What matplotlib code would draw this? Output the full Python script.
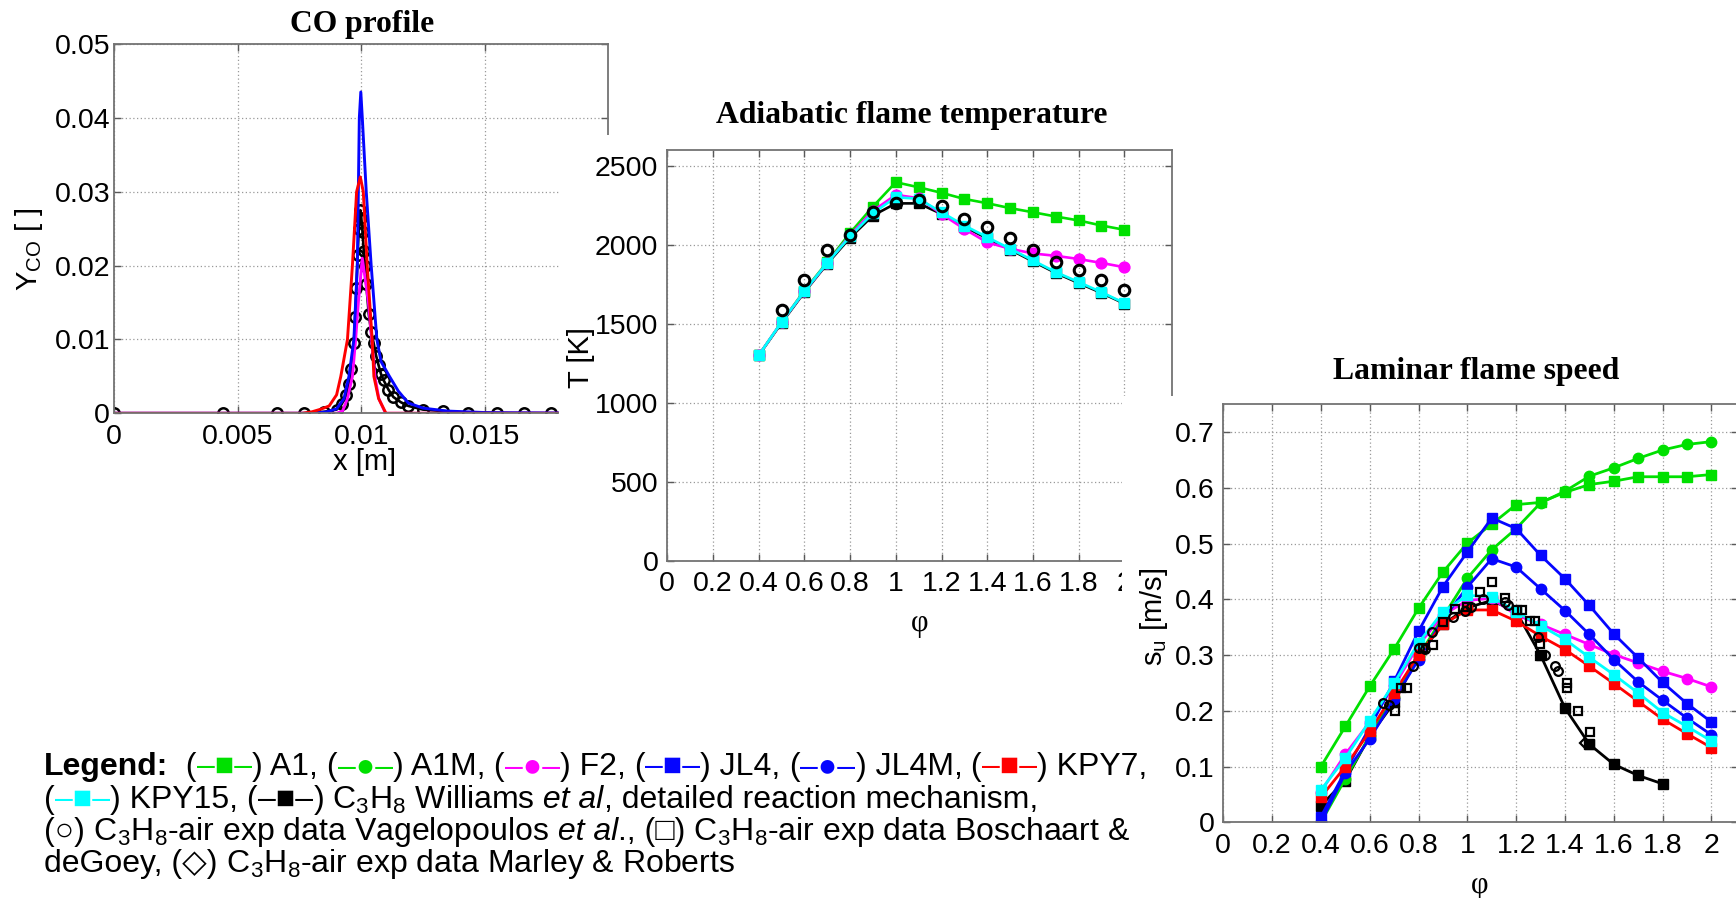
import matplotlib
matplotlib.use("Agg")
import matplotlib.pyplot as plt
from matplotlib.patches import Rectangle

plt.rcParams['font.family'] = ['Liberation Sans', 'DejaVu Sans']
plt.rcParams['mathtext.fontset'] = 'custom'
plt.rcParams['mathtext.rm'] = 'Liberation Sans'
plt.rcParams['mathtext.it'] = 'Liberation Sans:italic'
plt.rcParams['mathtext.bf'] = 'Liberation Sans:bold'
plt.rcParams['mathtext.default'] = 'regular'

# ---------------- data: CO profile ----------------
co_blue_x = [0.0, 0.0080, 0.0086, 0.0090, 0.0093, 0.0095, 0.0097, 0.00984, 0.00988, 0.00992, 0.00998,
             0.01004, 0.0102, 0.0104, 0.01063, 0.0108, 0.01114, 0.0115, 0.0119, 0.0125, 0.0135, 0.0150, 0.0200]
co_blue_y = [0.0, 0.0, 0.0002, 0.0006, 0.0020, 0.0050, 0.0100, 0.0200, 0.0300, 0.0400, 0.0435,
             0.0400, 0.0300, 0.0200, 0.0100, 0.0070, 0.0050, 0.0030, 0.0014, 0.0007, 0.0003, 0.0001, 0.0]
co_red_x = [0.0, 0.0076, 0.0080, 0.0084, 0.0087, 0.0090, 0.00917, 0.00944, 0.00964, 0.00981, 0.00996,
            0.01008, 0.01024, 0.01044, 0.01051, 0.0107, 0.01085, 0.0110, 0.0200]
co_red_y = [0.0, 0.0, 0.0002, 0.0006, 0.0010, 0.0025, 0.0050, 0.0100, 0.0200, 0.0300, 0.0320,
            0.0300, 0.0200, 0.0100, 0.0050, 0.0020, 0.0010, 0.0, 0.0]
co_mag_x = [0.0, 0.0090, 0.00924, 0.00944, 0.00964, 0.00977, 0.00988, 0.01004, 0.01029, 0.01042,
            0.01055, 0.01071, 0.01098, 0.0200]
co_mag_y = [0.0, 0.0, 0.0003, 0.0020, 0.0050, 0.0100, 0.0150, 0.0210, 0.0150, 0.0100,
            0.0050, 0.0020, 0.0, 0.0]
co_blk_x = [0.0, 0.0044, 0.0066, 0.0077, 0.0085, 0.0090, 0.0092, 0.0094, 0.0095, 0.0096, 0.0097,
            0.00975, 0.0098, 0.00985, 0.0099, 0.00996, 0.0100, 0.01005, 0.0101, 0.01015, 0.0102,
            0.0103, 0.0104, 0.0105, 0.0106, 0.0107, 0.0108, 0.0109, 0.0111, 0.0113, 0.0116, 0.0119,
            0.0125, 0.0133, 0.0143, 0.0155, 0.0166, 0.0177, 0.0188, 0.0200]
co_blk_y = [0.0, 0.0, 0.0, 0.0, 0.0002, 0.0005, 0.0012, 0.0025, 0.0040, 0.0060, 0.0095,
            0.0130, 0.0170, 0.0215, 0.0250, 0.0275, 0.0265, 0.0245, 0.0220, 0.0200, 0.0175,
            0.0135, 0.0110, 0.0095, 0.0078, 0.0065, 0.0053, 0.0045, 0.0032, 0.0022, 0.0015, 0.0010,
            0.0005, 0.0003, 0.0001, 0.0, 0.0, 0.0, 0.0, 0.0]

# ---------------- data: adiabatic flame temperature ----------------
phi = [0.4, 0.5, 0.6, 0.7, 0.8, 0.9, 1.0, 1.1, 1.2, 1.3, 1.4, 1.5, 1.6, 1.7, 1.8, 1.9, 2.0]
T_A1 = [1300, 1510, 1710, 1890, 2075, 2242, 2396, 2364, 2329, 2290, 2263, 2232, 2206, 2179, 2154, 2122, 2095]
T_F2 = [1300, 1510, 1705, 1885, 2060, 2215, 2316, 2295, 2195, 2100, 2015, 1975, 1945, 1930, 1910, 1885, 1858]
T_KPY15 = [1300, 1511, 1705, 1886, 2053, 2200, 2301, 2291, 2206, 2122, 2048, 1975, 1901, 1827, 1764, 1700, 1631]
T_Williams = [1300, 1505, 1700, 1880, 2045, 2185, 2262, 2262, 2195, 2115, 2040, 1970, 1895, 1822, 1758, 1695, 1628]
phi_exp_T = [0.5, 0.6, 0.7, 0.8, 0.9, 1.0, 1.1, 1.2, 1.3, 1.4, 1.5, 1.6, 1.7, 1.8, 1.9, 2.0]
T_exp = [1585, 1774, 1964, 2065, 2210, 2265, 2284, 2246, 2164, 2111, 2044, 1968, 1890, 1842, 1774, 1711]

# ---------------- data: laminar flame speed ----------------
su_A1 = [0.100, 0.172, 0.244, 0.311, 0.384, 0.449, 0.501, 0.535, 0.570, 0.574, 0.592, 0.606, 0.612, 0.620, 0.620, 0.620, 0.624]
su_A1M = [0.000, 0.078, 0.155, 0.225, 0.298, 0.368, 0.438, 0.489, 0.527, 0.573, 0.594, 0.621, 0.636, 0.653, 0.668, 0.678, 0.683]
su_F2 = [0.055, 0.122, 0.180, 0.245, 0.318, 0.372, 0.398, 0.402, 0.372, 0.355, 0.337, 0.319, 0.301, 0.286, 0.271, 0.258, 0.243]
su_JL4 = [0.010, 0.092, 0.170, 0.253, 0.343, 0.423, 0.485, 0.546, 0.527, 0.479, 0.437, 0.389, 0.338, 0.295, 0.251, 0.213, 0.180]
su_JL4M = [0.000, 0.088, 0.150, 0.221, 0.292, 0.364, 0.422, 0.473, 0.458, 0.419, 0.380, 0.337, 0.292, 0.252, 0.219, 0.187, 0.157]
su_KPY7 = [0.045, 0.100, 0.163, 0.232, 0.301, 0.355, 0.381, 0.381, 0.361, 0.334, 0.310, 0.280, 0.249, 0.217, 0.185, 0.159, 0.134]
su_KPY15 = [0.058, 0.115, 0.182, 0.250, 0.322, 0.378, 0.407, 0.405, 0.378, 0.353, 0.328, 0.296, 0.265, 0.232, 0.197, 0.172, 0.146]
phi_W = [0.4, 0.5, 0.6, 0.7, 0.8, 0.9, 1.0, 1.1, 1.2, 1.3, 1.4, 1.5, 1.6, 1.7, 1.8]
su_Williams = [0.030, 0.075, 0.155, 0.215, 0.300, 0.355, 0.385, 0.398, 0.378, 0.300, 0.205, 0.140, 0.104, 0.084, 0.069]
vag_phi = [0.656, 0.68, 0.779, 0.803, 0.826, 0.856, 0.942, 0.990, 1.017, 1.065, 1.154, 1.168, 1.291, 1.318, 1.359, 1.373]
vag_su = [0.214, 0.210, 0.281, 0.313, 0.311, 0.341, 0.368, 0.380, 0.387, 0.400, 0.396, 0.389, 0.332, 0.301, 0.280, 0.271]
bos_phi = [0.704, 0.727, 0.754, 0.82, 0.858, 0.902, 0.949, 0.997, 1.052, 1.100, 1.154, 1.202, 1.223, 1.257,
           1.277, 1.298, 1.298, 1.407, 1.407, 1.455, 1.503, 1.503]
bos_su = [0.200, 0.241, 0.241, 0.313, 0.319, 0.359, 0.383, 0.387, 0.413, 0.432, 0.402, 0.381, 0.381, 0.362,
          0.362, 0.320, 0.299, 0.250, 0.241, 0.200, 0.162, 0.139]
mar_phi = [1.482]
mar_su = [0.142]

# tick labels
co_xticks = [0, 0.005, 0.01, 0.015]
co_xlabels = ['0', '0.005', '0.01', '0.015']
co_yticks = [0, 0.01, 0.02, 0.03, 0.04, 0.05]
co_ylabels = ['0', '0.01', '0.02', '0.03', '0.04', '0.05']
phi_ticks = [0, 0.2, 0.4, 0.6, 0.8, 1.0, 1.2, 1.4, 1.6, 1.8, 2.0]
phi_labels = ['0', '0.2', '0.4', '0.6', '0.8', '1', '1.2', '1.4', '1.6', '1.8', '2']
T_ticks = [0, 500, 1000, 1500, 2000, 2500]
T_labels = ['0', '500', '1000', '1500', '2000', '2500']
su_ticks = [0, 0.1, 0.2, 0.3, 0.4, 0.5, 0.6, 0.7]
su_labels = ['0', '0.1', '0.2', '0.3', '0.4', '0.5', '0.6', '0.7']

# ---------------- figure ----------------
W, H = 1736, 898
fig = plt.figure(figsize=(W / 100, H / 100), dpi=100)
fig.patch.set_facecolor('white')

GREEN = '#00e000'
BLUE = '#0505ff'
MAG = '#ff00ff'
RED = '#ff0000'
CYAN = '#00ffff'
BLK = '#000000'
TICK_FS = 20.5
LAB_FS = 21


def add_ax(l, t, r, b, z):
    return fig.add_axes([l / W, 1 - b / H, (r - l) / W, (b - t) / H], zorder=z)


def style(ax, xlim, ylim, xt, xl, yt, yl, ypad):
    ax.set_xlim(*xlim)
    ax.set_ylim(*ylim)
    ax.set_xticks(xt)
    ax.set_xticklabels(xl)
    ax.set_yticks(yt)
    ax.set_yticklabels(yl)
    ax.set_axisbelow(True)
    ax.grid(True, linestyle=(0, (1, 2)), color='0.6', linewidth=0.9)
    ax.tick_params(direction='in', top=True, right=True, length=5, width=1,
                   color='0.35', labelsize=TICK_FS, labelcolor='black')
    ax.tick_params(axis='y', pad=ypad)
    ax.tick_params(axis='x', pad=7.5)
    for s in ax.spines.values():
        s.set_color('0.45')
        s.set_linewidth(1.3)


def cover(x0, y0, x1, y1, z):
    fig.add_artist(Rectangle((x0 / W, 1 - y1 / H), (x1 - x0) / W, (y1 - y0) / H,
                             transform=fig.transFigure, facecolor='white',
                             edgecolor='none', zorder=z))


TITLE = dict(fontfamily='Liberation Serif', fontweight='bold', fontsize=22.8,
             ha='center', va='baseline')

# --- CO profile ---
ax1 = add_ax(114.3, 44, 608.3, 413.3, 1)
style(ax1, (0, 0.02), (0, 0.05), co_xticks, co_xlabels, co_yticks, co_ylabels, 3)
ax1.plot(co_blk_x, co_blk_y, '-o', color=BLK, lw=1.9, ms=7.5, mfc='none', mew=1.8)
ax1.plot(co_mag_x, co_mag_y, '-', color=MAG, lw=2.1)
ax1.plot(co_blue_x, co_blue_y, '-', color=BLUE, lw=2.1)
ax1.plot(co_red_x, co_red_y, '-', color=RED, lw=2.1)
fig.text(362 / W, 1 - 32 / H, 'CO profile', zorder=1, **TITLE)
fig.text(365 / W, 1 - 462 / H, 'x [m]', fontsize=LAB_FS, ha='center', va='center', zorder=1)
fig.text(29 / W, 1 - 249 / H, 'Y$_{CO}$ [ ]', fontsize=LAB_FS, ha='center', va='center',
         rotation=90, zorder=1)

cover(558.5, 135, 640, 480, 1.5)

# --- Adiabatic flame temperature ---
ax2 = add_ax(667.3, 150, 1172.3, 560.7, 2)
style(ax2, (0, 2.21), (0, 2600), phi_ticks, phi_labels, T_ticks, T_labels, 6.5)
ax2.plot(phi, T_Williams, '-s', color=BLK, lw=1.9, ms=7.8)
ax2.plot(phi, T_A1, '-s', color=GREEN, lw=1.9, ms=7.8)
ax2.plot(phi, T_F2, '-o', color=MAG, lw=1.9, ms=7.8)
ax2.plot(phi, T_KPY15, '-s', color=CYAN, lw=1.9, ms=7.8)
ax2.plot(phi_exp_T, T_exp, 'o', color=BLK, ms=7.6, mfc='none', mew=2.2)
fig.text(912 / W, 1 - 123 / H, 'Adiabatic flame temperature', zorder=2, **TITLE)
fig.text(920 / W, 1 - 624 / H, 'φ', fontsize=22, fontfamily='Liberation Serif',
         ha='center', va='center', zorder=2)
fig.text(581 / W, 1 - 358 / H, 'T [K]', fontsize=LAB_FS, ha='center', va='center',
         rotation=90, zorder=2)

cover(1121.5, 396, 1200, 660, 2.5)

# --- Laminar flame speed ---
ax3 = add_ax(1223.3, 404.3, 1737.5, 822.3, 3)
style(ax3, (0, 2.107), (0, 0.75), phi_ticks, phi_labels, su_ticks, su_labels, 6)
LW, MS = 2.0, 7.5
ax3.plot(phi_W, su_Williams, '-s', color=BLK, lw=LW, ms=MS)
ax3.plot(phi, su_A1, '-s', color=GREEN, lw=LW, ms=MS)
ax3.plot(phi, su_A1M, '-o', color=GREEN, lw=LW, ms=MS)
ax3.plot(phi, su_F2, '-o', color=MAG, lw=LW, ms=MS)
ax3.plot(phi, su_JL4, '-s', color=BLUE, lw=LW, ms=MS)
ax3.plot(phi, su_JL4M, '-o', color=BLUE, lw=LW, ms=MS)
ax3.plot(phi, su_KPY7, '-s', color=RED, lw=LW, ms=MS)
ax3.plot(phi, su_KPY15, '-s', color=CYAN, lw=LW, ms=MS)
ax3.plot(vag_phi, vag_su, 'o', color=BLK, ms=6.3, mfc='none', mew=1.6)
ax3.plot(bos_phi, bos_su, 's', color=BLK, ms=5.8, mfc='none', mew=1.6)
ax3.plot(mar_phi, mar_su, 'D', color=BLK, ms=5.5, mfc='none', mew=1.6)
fig.text(1476 / W, 1 - 379 / H, 'Laminar flame speed', zorder=3, **TITLE)
fig.text(1480 / W, 1 - 886 / H, 'φ', fontsize=22, fontfamily='Liberation Serif',
         ha='center', va='center', zorder=3)
fig.text(1154 / W, 1 - 617 / H, 's$_u$ [m/s]', fontsize=LAB_FS, ha='center', va='center',
         rotation=90, zorder=3)

# --- Legend text block ---
LEG_FS = 23
renderer = fig.canvas.get_renderer()


def put_line(pieces, x0, ybase):
    x = x0
    for p in pieces:
        txt, col = p[0], p[1]
        kw = p[2] if len(p) > 2 else {}
        t = fig.text(x / W, 1 - ybase / H, txt, color=col, fontsize=LEG_FS,
                     ha='left', va='baseline', zorder=10, **kw)
        bb = t.get_window_extent(renderer=renderer)
        x = bb.x1


B = {'fontweight': 'bold'}
IT = {'fontstyle': 'italic'}
line1 = [('Legend:', BLK, B), ('  (', BLK), ('–■–', GREEN), (') A1,', BLK), (' (', BLK), ('–●–', GREEN),
         (') A1M,', BLK), (' (', BLK), ('–●–', MAG), (') F2,', BLK), (' (', BLK), ('–■–', BLUE),
         (') JL4,', BLK), (' (', BLK), ('–●–', BLUE), (') JL4M,', BLK), (' (', BLK), ('–■–', RED),
         (') KPY7,', BLK)]
line2 = [('(', BLK), ('–■–', CYAN), (') KPY15,', BLK), (' (', BLK), ('–■–', BLK),
         (') C$_3$H$_8$ Williams', BLK), (' et al', BLK, IT), (', detailed reaction mechanism,', BLK)]
line3 = [('(○)', BLK), (' C$_3$H$_8$-air exp data Vagelopoulos', BLK), (' et al', BLK, IT),
         ('., (□)', BLK), (' C$_3$H$_8$-air exp data Boschaart &', BLK)]
line4 = [('deGoey, (◇)', BLK), (' C$_3$H$_8$-air exp data Marley & Roberts', BLK)]

put_line(line1, 44, 775)
put_line(line2, 44, 808)
put_line(line3, 44, 840)
put_line(line4, 44, 872)

fig.savefig('out.png', dpi=100, facecolor='white')
